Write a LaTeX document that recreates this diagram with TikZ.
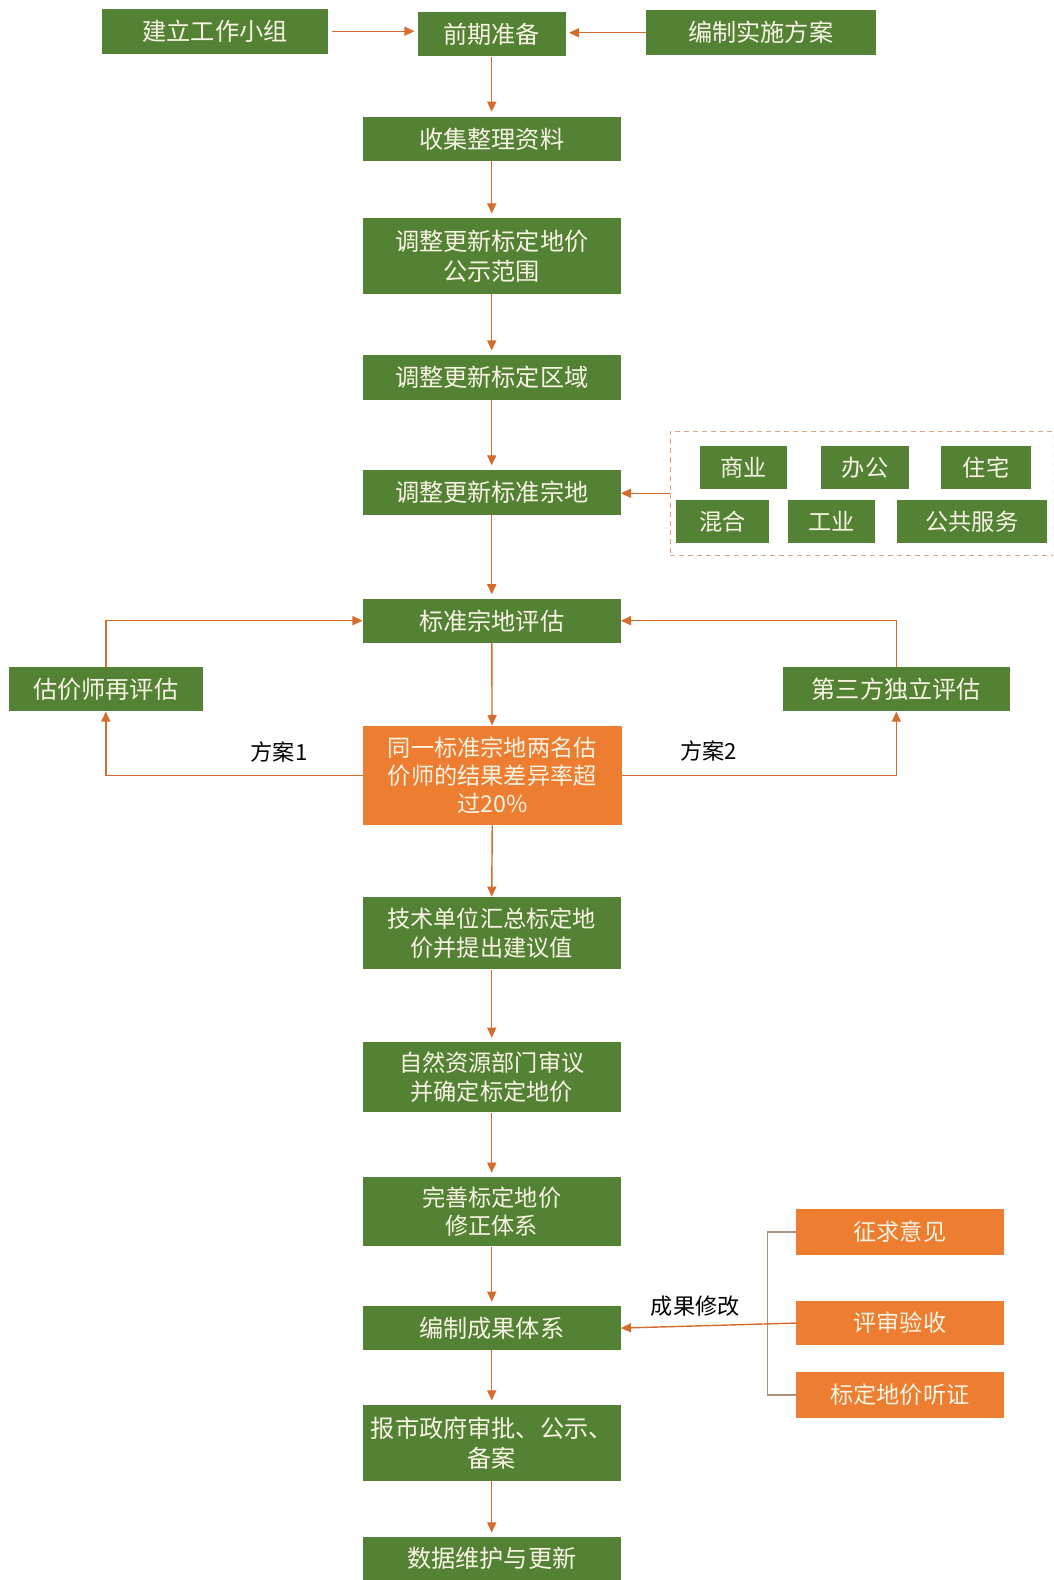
\documentclass[tikz,border=0pt]{standalone}
\usepackage{fontspec}
\setmainfont{Noto Sans CJK SC}
\usetikzlibrary{arrows.meta}
\definecolor{gbox}{RGB}{84,130,53}
\definecolor{obox}{RGB}{237,125,49}
\definecolor{arrc}{RGB}{212,108,45}
\definecolor{brkc}{RGB}{176,146,124}
\definecolor{dashc}{RGB}{222,165,125}
\definecolor{txtc}{RGB}{248,244,228}
\tikzset{
  gnode/.style={rectangle, fill=gbox, text=txtc, inner sep=0pt, align=center, font=\fontsize{23}{28}\selectfont},
  onode/.style={gnode, fill=obox},
  arr/.style={draw=arrc, line width=1.4pt, -{Triangle[length=10pt,width=9pt]}},
  brk/.style={draw=brkc, line width=1.3pt},
  lbl/.style={text=black, font=\fontsize{22}{26}\selectfont, inner sep=0pt},
  dbox/.style={draw=dashc, line width=1pt, dash pattern=on 5pt off 4pt, inner sep=0pt}
}
\begin{document}
\begin{tikzpicture}[x=1pt,y=-1pt]
\useasboundingbox[fill=white] (0,0) rectangle (1045,1568);
\clip (0,0) rectangle (1045,1568);
% top row
\node[gnode, minimum width=225pt, minimum height=45pt, font=\fontsize{24}{28}\selectfont] (n1) at (213.5,31) {建立工作小组};
\node[gnode, minimum width=147pt, minimum height=44pt, font=\fontsize{24}{28}\selectfont] (n2) at (488,34) {前期准备};
\node[gnode, minimum width=228pt, minimum height=45pt, font=\fontsize{24}{28}\selectfont] (n3) at (755,32.5) {编制实施方案};
% main column
\node[gnode, minimum width=256pt, minimum height=44pt, font=\fontsize{24}{28}\selectfont] (n4) at (488,138) {收集整理资料};
\node[gnode, minimum width=256pt, minimum height=76pt, font=\fontsize{24}{30}\selectfont] (n5) at (488,254) {调整更新标定地价\\公示范围};
\node[gnode, minimum width=256pt, minimum height=45pt, font=\fontsize{24}{28}\selectfont] (n6) at (488,374.5) {调整更新标定区域};
\node[gnode, minimum width=256pt, minimum height=45pt, font=\fontsize{24}{28}\selectfont] (n7) at (488,488.5) {调整更新标准宗地};
% land use group
\node[dbox, minimum width=380pt, minimum height=123pt] (grp) at (855,489.5) {};
\node[gnode, minimum width=86pt, minimum height=42pt] (s1) at (738,464) {商业};
\node[gnode, minimum width=87pt, minimum height=42pt] (s2) at (858.5,464) {办公};
\node[gnode, minimum width=89pt, minimum height=42pt] (s3) at (978.5,464) {住宅};
\node[gnode, minimum width=92pt, minimum height=43pt] (s4) at (717,517.5) {混合};
\node[gnode, minimum width=86pt, minimum height=43pt] (s5) at (825,517.5) {工业};
\node[gnode, minimum width=149pt, minimum height=43pt] (s6) at (964.5,517.5) {公共服务};
% evaluation
\node[gnode, minimum width=256pt, minimum height=44pt, font=\fontsize{24}{28}\selectfont] (n8) at (488,616) {标准宗地评估};
\node[gnode, minimum width=192pt, minimum height=44pt, font=\fontsize{24}{28}\selectfont] (n9) at (105,684) {估价师再评估};
\node[gnode, minimum width=225pt, minimum height=44pt, font=\fontsize{24}{28}\selectfont] (n10) at (889.5,684) {第三方独立评估};
\node[onode, minimum width=257pt, minimum height=99pt, font=\fontsize{23}{27.5}\selectfont] (n11) at (488.5,769.5) {同一标准宗地两名估\\价师的结果差异率超\\过20\%};
\node[lbl] (l1) at (277,746) {方案1};
\node[lbl] (l2) at (703,745) {方案2};
% lower column
\node[gnode, minimum width=256pt, minimum height=72pt, font=\fontsize{23}{28}\selectfont] (n12) at (488,926) {技术单位汇总标定地\\价并提出建议值};
\node[gnode, minimum width=256pt, minimum height=70pt, font=\fontsize{23}{28}\selectfont] (n13) at (488,1069) {自然资源部门审议\\并确定标定地价};
\node[gnode, minimum width=256pt, minimum height=69pt, font=\fontsize{23}{28}\selectfont] (n14) at (488,1202.5) {完善标定地价\\修正体系};
\node[gnode, minimum width=256pt, minimum height=44pt, font=\fontsize{24}{28}\selectfont] (n15) at (488,1318) {编制成果体系};
\node[gnode, minimum width=256pt, minimum height=76pt, font=\fontsize{24}{30}\selectfont] (n16) at (488,1432) {报市政府审批、公示、\\备案};
\node[gnode, minimum width=256pt, minimum height=43pt, font=\fontsize{24}{28}\selectfont] (n17) at (488,1546.5) {数据维护与更新};
% review boxes
\node[onode, minimum width=206pt, minimum height=45pt] (o1) at (893,1222.5) {征求意见};
\node[onode, minimum width=206pt, minimum height=44pt] (o2) at (893,1313) {评审验收};
\node[onode, minimum width=206pt, minimum height=45pt] (o3) at (893,1384.5) {标定地价听证};
\node[lbl] (l3) at (690,1296) {成果修改};
\coordinate (bx) at (762,1300);
% connectors
\draw[arr, shorten <=3pt, shorten >=3pt] (n1.east) -- (n1.east -| n2.west);
\draw[arr, shorten >=3pt] (n3.west) -- (n3.west -| n2.east);
\draw[arr, shorten >=5pt] (n2) -- (n4);
\draw[arr, shorten >=4pt] (n4) -- (n5);
\draw[arr, shorten >=4pt] (n5) -- (n6);
\draw[arr, shorten >=4pt] (n6) -- (n7);
\draw[arr] (grp.west) -- (grp.west -| n7.east);
\draw[arr, shorten >=4pt] (n7) -- (n8);
\draw[arr] (n8) -- (n11);
\draw[arr] (n11.west) -| (n9.south);
\draw[arr] (n9.north) |- (n8.west);
\draw[arr] (n11.east) -| (n10.south);
\draw[arr] (n10.north) |- (n8.east);
\draw[arr] (n11.south) -- (n12.north);
\draw[arr, shorten >=4pt] (n12) -- (n13);
\draw[arr, shorten >=4pt] (n13) -- (n14);
\draw[arr, shorten >=4pt] (n14) -- (n15);
\draw[arr, shorten >=4pt] (n15) -- (n16);
\draw[arr, shorten >=4pt] (n16) -- (n17);
\draw[brk] (o1.west) -- (o1.west -| bx) -- (o3.west -| bx) -- (o3.west);
\draw[arr] (o2.west) -- (n15.east);
\end{tikzpicture}
\end{document}
